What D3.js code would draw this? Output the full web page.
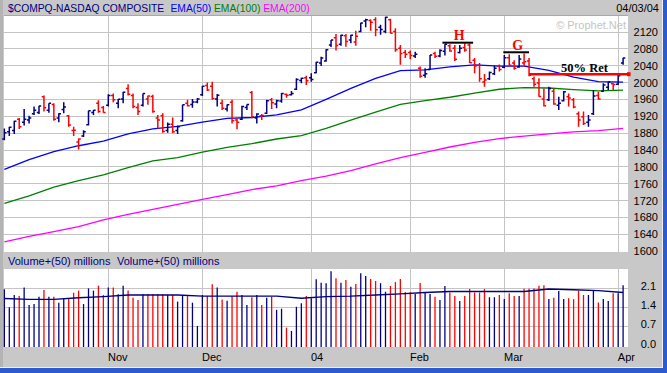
<!DOCTYPE html>
<html>
<head>
<meta charset="utf-8">
<script src="https://cdn.jsdelivr.net/npm/d3@7"></script>
<style>
  body { margin: 0; background: #c8c8c8; }
  svg { display: block; font-family: 'Liberation Sans', Arial, sans-serif; }
</style>
</head>
<body>
<svg id="chart" width="667" height="373"></svg>
<script>
//

const dates = [
  '2003-10-03', '2003-10-06', '2003-10-07', '2003-10-08', '2003-10-09', '2003-10-10',
  '2003-10-13', '2003-10-14', '2003-10-15', '2003-10-16', '2003-10-17',
  '2003-10-20', '2003-10-21', '2003-10-22', '2003-10-23', '2003-10-24',
  '2003-10-27', '2003-10-28', '2003-10-29', '2003-10-30', '2003-10-31',
  '2003-11-03', '2003-11-04', '2003-11-05', '2003-11-06', '2003-11-07',
  '2003-11-10', '2003-11-11', '2003-11-12', '2003-11-13', '2003-11-14',
  '2003-11-17', '2003-11-18', '2003-11-19', '2003-11-20', '2003-11-21',
  '2003-11-24', '2003-11-25', '2003-11-26', '2003-11-28',
  '2003-12-01', '2003-12-02', '2003-12-03', '2003-12-04', '2003-12-05',
  '2003-12-08', '2003-12-09', '2003-12-10', '2003-12-11', '2003-12-12',
  '2003-12-15', '2003-12-16', '2003-12-17', '2003-12-18', '2003-12-19',
  '2003-12-22', '2003-12-23', '2003-12-24', '2003-12-26',
  '2003-12-29', '2003-12-30', '2003-12-31',
  '2004-01-02', '2004-01-05', '2004-01-06', '2004-01-07', '2004-01-08', '2004-01-09',
  '2004-01-12', '2004-01-13', '2004-01-14', '2004-01-15', '2004-01-16',
  '2004-01-20', '2004-01-21', '2004-01-22', '2004-01-23',
  '2004-01-26', '2004-01-27', '2004-01-28', '2004-01-29', '2004-01-30',
  '2004-02-02', '2004-02-03', '2004-02-04', '2004-02-05', '2004-02-06',
  '2004-02-09', '2004-02-10', '2004-02-11', '2004-02-12', '2004-02-13',
  '2004-02-17', '2004-02-18', '2004-02-19', '2004-02-20',
  '2004-02-23', '2004-02-24', '2004-02-25', '2004-02-26', '2004-02-27',
  '2004-03-01', '2004-03-02', '2004-03-03', '2004-03-04', '2004-03-05',
  '2004-03-08', '2004-03-09', '2004-03-10', '2004-03-11', '2004-03-12',
  '2004-03-15', '2004-03-16', '2004-03-17', '2004-03-18', '2004-03-19',
  '2004-03-22', '2004-03-23', '2004-03-24', '2004-03-25', '2004-03-26',
  '2004-03-29', '2004-03-30', '2004-03-31',
  '2004-04-01', '2004-04-02'
]

const opens = [
  1865, 1882, 1885, 1912, 1905, 1910, 1925, 1928, 1965, 1933,
  1947, 1915, 1935, 1920, 1885, 1858, 1872, 1899, 1928, 1950,
  1940, 1945, 1968, 1950, 1960, 1985, 1968, 1940, 1945, 1960,
  1966, 1915, 1920, 1885, 1900, 1885, 1908, 1950, 1947, 1953,
  1970, 1992, 1990, 1960, 1950, 1936, 1952, 1910, 1912, 1940,
  1975, 1915, 1920, 1926, 1958, 1948, 1955, 1971, 1970, 1983,
  2004, 2010, 2010, 2022, 2045, 2050, 2088, 2105, 2090, 2110,
  2100, 2095, 2120, 2145, 2146, 2148, 2130, 2120, 2148, 2120,
  2080, 2070, 2070, 2062, 2033, 2016, 2030, 2068, 2062, 2073,
  2086, 2080, 2070, 2082, 2088, 2052, 2040, 2000, 2008, 2020,
  2038, 2035, 2058, 2045, 2036, 2045, 2050, 2008, 1998, 1960,
  1958, 1978, 1945, 1956, 1965, 1958, 1925, 1918, 1905, 1925,
  1968, 1978, 1988, 1996, 1995, 2045
]

const highs = [
  1890, 1894, 1908, 1915, 1936, 1920, 1942, 1944, 1968, 1950,
  1950, 1926, 1952, 1922, 1894, 1866, 1886, 1932, 1934, 1957,
  1943, 1971, 1973, 1960, 1977, 1995, 1973, 1950, 1973, 1968,
  1970, 1922, 1926, 1904, 1916, 1897, 1946, 1958, 1960, 1962,
  1991, 1999, 2001, 1972, 1958, 1947, 1958, 1914, 1944, 1947,
  1979, 1926, 1924, 1958, 1962, 1958, 1974, 1973, 1979, 2009,
  2010, 2015, 2021, 2048, 2060, 2078, 2100, 2114, 2112, 2114,
  2112, 2122, 2141, 2150, 2149, 2154, 2136, 2155, 2150, 2128,
  2088, 2076, 2075, 2072, 2037, 2033, 2064, 2072, 2078, 2090,
  2090, 2088, 2088, 2092, 2092, 2057, 2045, 2019, 2025, 2039,
  2042, 2064, 2066, 2052, 2064, 2068, 2057, 2013, 2009, 1985,
  1989, 1985, 1965, 1979, 1973, 1962, 1930, 1930, 1922, 1981,
  1977, 1997, 2001, 1997, 2017, 2058
]

const lows = [
  1862, 1872, 1877, 1889, 1897, 1902, 1922, 1924, 1930, 1927,
  1908, 1905, 1926, 1894, 1872, 1840, 1870, 1897, 1922, 1927,
  1927, 1942, 1952, 1938, 1950, 1968, 1938, 1922, 1942, 1946,
  1927, 1890, 1880, 1880, 1879, 1877, 1906, 1942, 1939, 1950,
  1967, 1979, 1958, 1942, 1934, 1930, 1902, 1888, 1910, 1934,
  1914, 1902, 1910, 1924, 1936, 1938, 1951, 1963, 1968, 1981,
  1997, 1993, 2001, 2021, 2038, 2048, 2083, 2075, 2086, 2084,
  2092, 2086, 2118, 2130, 2122, 2109, 2112, 2116, 2116, 2072,
  2041, 2057, 2054, 2057, 2010, 2010, 2029, 2057, 2059, 2063,
  2072, 2050, 2068, 2072, 2045, 2021, 2001, 1989, 2005, 2017,
  2025, 2033, 2037, 2029, 2034, 2037, 2014, 1989, 1965, 1942,
  1955, 1946, 1934, 1954, 1942, 1938, 1894, 1898, 1894, 1922,
  1958, 1977, 1981, 1981, 1993, 2041
]

const closes = [
  1880, 1893, 1907, 1894, 1912, 1915, 1933, 1943, 1939, 1950,
  1912, 1925, 1941, 1898, 1886, 1865, 1882, 1932, 1933, 1930,
  1928, 1968, 1958, 1959, 1976, 1971, 1942, 1930, 1973, 1967,
  1930, 1910, 1883, 1900, 1882, 1894, 1946, 1944, 1953, 1960,
  1990, 1981, 1961, 1969, 1938, 1946, 1908, 1905, 1942, 1947,
  1918, 1924, 1921, 1956, 1951, 1956, 1973, 1969, 1973, 2006,
  2009, 2003, 2006, 2047, 2057, 2077, 2100, 2087, 2111, 2096,
  2111, 2109, 2140, 2148, 2142, 2124, 2124.5, 2154, 2116, 2077,
  2068, 2066, 2063, 2066, 2014, 2020, 2064, 2061, 2075, 2090,
  2074, 2054, 2080, 2076, 2046, 2038, 2008, 2005, 2023, 2033,
  2030, 2058, 2040, 2033, 2055, 2048, 2016, 1995, 1966, 1944,
  1985, 1948, 1950, 1977, 1962, 1941, 1910, 1902, 1910, 1967,
  1960, 1993, 2000, 1994, 2015, 2057
]

// volume, millions (as labelled)
const volumes = [
  2.04, 1.38, 1.83, 1.79, 2.10, 1.47, 1.50, 1.77, 2.01, 1.77,
  1.77, 1.55, 1.71, 1.71, 1.91, 1.99, 1.50, 2.07, 1.99, 2.17,
  1.83, 2.10, 2.10, 1.86, 2.17, 1.99, 1.73, 1.65, 1.86, 1.86,
  1.86, 1.86, 1.86, 1.83, 1.83, 1.59, 1.83, 1.79, 1.55, 0.70,
  1.83, 1.79, 2.22, 2.10, 1.67, 1.62, 1.79, 1.95, 1.83, 1.47,
  1.75, 1.83, 1.47, 1.73, 1.77, 1.29, 1.33, 0.64, 0.52, 1.40,
  1.53, 1.79, 1.71, 2.40, 2.28, 2.26, 2.70, 2.44, 2.28, 2.38,
  2.13, 2.23, 2.62, 2.52, 2.41, 2.34, 2.26, 1.95, 2.16, 2.30,
  2.41, 1.94, 1.93, 1.87, 2.27, 1.93, 1.87, 1.77, 1.65, 2.16,
  1.92, 1.79, 1.61, 1.79, 2.05, 1.92, 1.92, 2.05, 1.75, 1.75,
  1.83, 1.68, 1.89, 1.79, 1.79, 2.06, 2.06, 2.07, 2.17, 2.19,
  1.68, 1.73, 1.98, 1.68, 1.71, 1.68, 1.99, 1.83, 1.83, 1.98,
  1.56, 1.68, 1.61, 1.89, 1.89, 2.19
]

// moving averages, read every 5th session
const avgIndex = [0, 5, 10, 15, 20, 25, 30, 35, 40, 45, 50, 55, 60, 65, 70, 75, 80, 85, 90, 95, 100, 105, 110, 115, 120, 125]
const ema50 = [1793, 1816, 1835, 1849, 1860, 1877, 1889, 1895, 1905, 1914, 1916, 1922, 1934, 1959, 1985, 2009, 2027, 2029, 2036, 2041, 2038, 2038, 2028, 2012, 2001, 2000]
const ema100 = [1712, 1730, 1751, 1766, 1780, 1797, 1813, 1821, 1834, 1845, 1854, 1865, 1873, 1890, 1910, 1929, 1947, 1956, 1964, 1974, 1983, 1987, 1986, 1982, 1979, 1981]
const ema200 = [1621, 1634, 1645, 1657, 1673, 1686, 1698, 1710, 1722, 1733, 1745, 1754, 1766, 1777, 1790, 1806, 1821, 1833, 1846, 1857, 1866, 1872, 1877, 1882, 1885, 1890]
const volAvg = [1.70, 1.67, 1.67, 1.73, 1.77, 1.83, 1.83, 1.83, 1.79, 1.79, 1.79, 1.79, 1.71, 1.77, 1.79, 1.83, 1.87, 1.92, 1.96, 1.96, 1.96, 1.96, 2.05, 2.02, 1.99, 1.92]

const priceTicks = [1600, 1640, 1680, 1720, 1760, 1800, 1840, 1880, 1920, 1960, 2000, 2040, 2080, 2120]
const volTicks = [0, 0.7, 1.4, 2.1]
const monthLabels = ['Nov', 'Dec', '04', 'Feb', 'Mar', 'Apr']
const monthDates = ['2003-11-03', '2003-12-01', '2004-01-02', '2004-02-02', '2004-03-01', '2004-04-01']

// drawn annotations: label, price level, session span (fractional index)
const markLabels = ['H', 'G', '50% Ret']
const markLevels = [2093.5, 2070.7, 2018.7]
const markFrom = [88.5, 100.8, 106]
const markTo = [94.7, 106, 126.2]

//

const W = 667
const H = 373
const NAVY = '#000080'
const RED = '#ff0000'
const SERIF = "'Liberation Serif', 'Times New Roman', serif"
const plot = {left: 4, right: 628, top: 16, bottom: 252}
const vplot = {left: 4, right: 628, top: 269, bottom: 347}

const svg = d3.select('#chart')

const x = d3.scalePoint().domain(dates).range([4.35, 623.1])
const xi = d3.scaleLinear().domain([0, dates.length - 1]).range(x.range())
const y = d3.scaleLinear().domain([1600, 2120]).range([250.7, 31.5])
const yv = d3.scaleLinear().domain([0, 2.1]).range([345.2, 287.6])

const upDay = (i) => i === 0 ? closes[i] >= opens[i] : closes[i] >= closes[i - 1]
const barColor = (i) => upDay(i) ? NAVY : RED

// frame
svg.append('rect').attr('width', W).attr('height', H).attr('fill', '#c8c8c8')
svg.append('rect').attr('x', 0).attr('y', 0).attr('width', 3).attr('height', H).attr('fill', '#b4b4b4')
svg.append('rect').attr('x', 662).attr('y', 0).attr('width', 1).attr('height', 368).attr('fill', '#eeeeee')
svg.append('rect').attr('x', 663).attr('y', 0).attr('width', 4).attr('height', H).attr('fill', '#2c5ad0')
svg.append('rect').attr('x', 0).attr('y', 367).attr('width', 663).attr('height', 1).attr('fill', '#eeeeee')
svg.append('rect').attr('x', 0).attr('y', 368).attr('width', W).attr('height', 5).attr('fill', '#2c5ad0')

// panels
svg.append('rect')
  .attr('x', plot.left).attr('y', plot.top)
  .attr('width', plot.right - plot.left).attr('height', plot.bottom - plot.top)
  .attr('fill', '#ffffff')
svg.append('rect')
  .attr('x', vplot.left).attr('y', vplot.top)
  .attr('width', vplot.right - vplot.left).attr('height', vplot.bottom - vplot.top)
  .attr('fill', '#ffffff')
svg.append('line')
  .attr('x1', plot.left).attr('x2', plot.right).attr('y1', plot.top - 0.5).attr('y2', plot.top - 0.5)
  .attr('stroke', '#a8a8a8')

// watermark
svg.append('text')
  .attr('x', 626).attr('y', 29).attr('text-anchor', 'end')
  .attr('font-size', 11).attr('fill', '#c4c4c4')
  .text('\u00a9 Prophet.Net')

// gridlines
const grid = svg.append('g')
  .attr('stroke', '#c4c4c4')
  .attr('shape-rendering', 'crispEdges')

grid.selectAll('.hp')
  .data(priceTicks.slice(1))
  .join('line')
  .attr('x1', plot.left).attr('x2', plot.right)
  .attr('y1', (d) => Math.round(y(d)) + 0.5)
  .attr('y2', (d) => Math.round(y(d)) + 0.5)

grid.selectAll('.hv')
  .data(volTicks.slice(1))
  .join('line')
  .attr('x1', vplot.left).attr('x2', vplot.right)
  .attr('y1', (d) => Math.round(yv(d)) + 0.5)
  .attr('y2', (d) => Math.round(yv(d)) + 0.5)

monthDates.forEach((d) => {
  const gx = Math.round(x(d) - 0.6) + 0.5
  grid.append('line').attr('x1', gx).attr('x2', gx).attr('y1', plot.top).attr('y2', plot.bottom)
  grid.append('line').attr('x1', gx).attr('x2', gx).attr('y1', vplot.top).attr('y2', vplot.bottom)
})

// moving averages
const avgLine = (scale, values) => d3.line()
  .x((d, k) => x(dates[avgIndex[k]]))
  .y((d) => scale(d))(values)

const averages = svg.append('g').attr('fill', 'none').attr('stroke-width', 1.3)
averages.append('path').attr('d', avgLine(y, ema200)).attr('stroke', '#ff00ff')
averages.append('path').attr('d', avgLine(y, ema100)).attr('stroke', '#008000')
averages.append('path').attr('d', avgLine(y, ema50)).attr('stroke', '#0000ff')

// price bars (open tick left, close tick right)
const bars = svg.append('g').attr('stroke-width', 1.5)
bars.selectAll('path')
  .data(dates)
  .join('path')
  .attr('stroke', (d, i) => barColor(i))
  .attr('fill', 'none')
  .attr('d', (d, i) => {
    const bx = x(d)
    return `M${bx},${y(highs[i])}V${y(lows[i])}` +
      `M${bx - 2.2},${y(opens[i])}H${bx}` +
      `M${bx},${y(closes[i])}H${bx + 2.2}`
  })

// annotations
const marks = svg.append('g')
markLabels.forEach((label, k) => {
  const ly = y(markLevels[k])
  const x0 = xi(markFrom[k])
  const x1 = xi(markTo[k])
  const isRet = k === 2
  marks.append('line')
    .attr('x1', x0).attr('x2', x1).attr('y1', ly).attr('y2', ly)
    .attr('stroke', isRet ? RED : '#000000')
    .attr('stroke-width', isRet ? 2.6 : 2)
  if (isRet) {
    marks.append('rect')
      .attr('x', x1 - 2).attr('y', ly - 2).attr('width', 3.5).attr('height', 4)
      .attr('fill', RED)
    marks.append('text')
      .attr('x', x0 + 32).attr('y', ly - 2)
      .style('font-family', SERIF)
      .attr('font-weight', 'bold').attr('font-size', 12.5)
      .attr('fill', '#000000')
      .text(label)
  } else {
    marks.append('text')
      .attr('x', (x0 + x1) / 2 + 1.5).attr('y', ly - 2.5)
      .attr('text-anchor', 'middle')
      .style('font-family', SERIF)
      .attr('font-weight', 'bold').attr('font-size', 14)
      .attr('fill', RED)
      .text(label)
  }
})

// volume bars and average
svg.append('g')
  .attr('stroke-width', 1.3)
  .selectAll('line')
  .data(dates)
  .join('line')
  .attr('x1', (d) => x(d)).attr('x2', (d) => x(d))
  .attr('y1', vplot.bottom).attr('y2', (d, i) => yv(volumes[i]))
  .attr('stroke', (d, i) => barColor(i))

svg.append('path')
  .attr('d', avgLine(yv, volAvg))
  .attr('fill', 'none')
  .attr('stroke', NAVY)
  .attr('stroke-width', 1.4)

// axes
const styleAxisText = (sel) => sel
  .attr('font-size', 11)
  .attr('font-family', null)
  .attr('fill', '#000000')

const yAxis = d3.axisRight(y).tickValues(priceTicks).tickFormat(d3.format('d')).tickSize(0).tickPadding(0)
svg.append('g')
  .attr('transform', 'translate(658,0)')
  .call(yAxis)
  .attr('font-family', null)
  .call((g) => g.select('.domain').remove())
  .selectAll('text')
  .attr('text-anchor', 'end')
  .attr('dy', '0.36em')
  .call(styleAxisText)

const vAxis = d3.axisRight(yv).tickValues(volTicks).tickFormat(d3.format('.1f')).tickSize(0).tickPadding(0)
svg.append('g')
  .attr('transform', 'translate(656,-2)')
  .call(vAxis)
  .attr('font-family', null)
  .call((g) => g.select('.domain').remove())
  .selectAll('text')
  .attr('text-anchor', 'end')
  .attr('dy', '0.36em')
  .call(styleAxisText)

const xAxis = d3.axisBottom(x).tickValues(monthDates)
  .tickFormat((d, i) => monthLabels[i]).tickSize(0).tickPadding(0)
svg.append('g')
  .attr('transform', 'translate(-0.8,353.5)')
  .call(xAxis)
  .attr('font-family', null)
  .call((g) => g.select('.domain').remove())
  .selectAll('text')
  .attr('text-anchor', 'start')
  .call(styleAxisText)

// titles
const title = svg.append('text').attr('y', 12).attr('font-size', 10.3)
title.append('tspan').attr('x', 8).attr('fill', NAVY).text('$COMPQ-NASDAQ COMPOSITE')
title.append('tspan').attr('x', 170.5).attr('fill', '#0000ff').text('EMA(50)')
title.append('tspan').attr('fill', '#008000').text(' EMA(100)')
title.append('tspan').attr('fill', '#ff00ff').text(' EMA(200)')

svg.append('text')
  .attr('x', 659).attr('y', 12).attr('text-anchor', 'end')
  .attr('font-size', 11).attr('fill', '#000000')
  .text('04/03/04')

const vtitle = svg.append('text').attr('y', 265).attr('font-size', 11).attr('fill', NAVY)
vtitle.append('tspan').attr('x', 8).text('Volume+(50) millions')
vtitle.append('tspan').attr('x', 117).text('Volume+(50) millions')
</script>
</body>
</html>
